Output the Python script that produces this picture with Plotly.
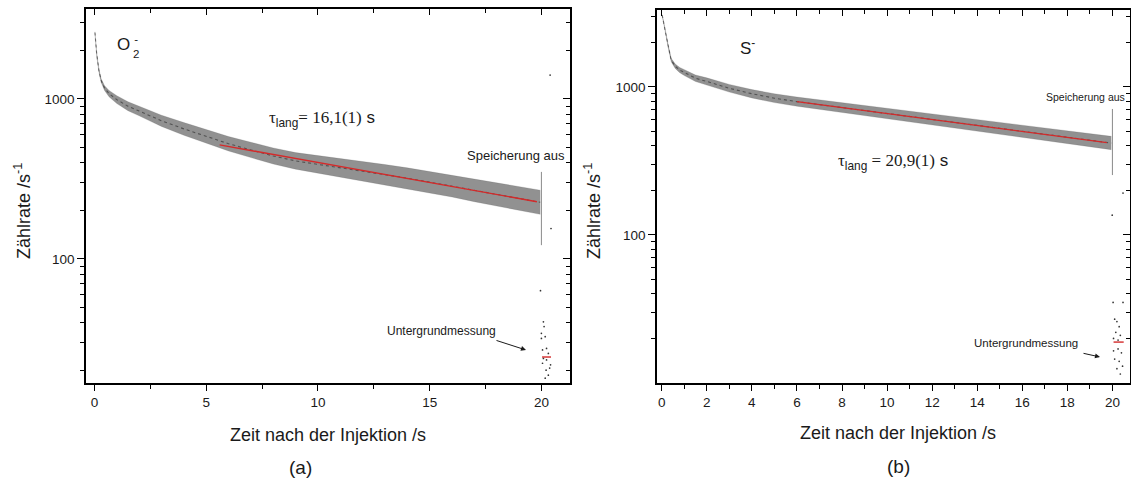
import plotly.graph_objects as go

W, H = 1131, 484

# ---------------- data ----------------
# Panel (a): O2-  -- scatter band of count rate vs time
t_a = [0.02, 0.1, 0.2, 0.3, 0.45, 0.65, 1.0, 1.5, 2.0, 3.0, 4.0, 5.0, 6.0, 7.0, 8.0,
       9.0, 10.0, 11.0, 12.0, 13.0, 14.0, 15.0, 16.0, 17.0, 18.0, 19.0, 19.95]
mid_a = [2600, 1900, 1500, 1300, 1170, 1080, 990, 900, 840, 730, 650, 585, 525, 480, 440,
         410, 390, 372, 355, 337, 320, 302, 285, 268, 254, 240, 226]
up_a = [2630, 1935, 1535, 1336, 1211, 1131, 1048, 960, 900, 791, 712, 645, 582, 536, 494,
        462, 443, 425, 408, 389, 371, 352, 333, 315, 300, 285, 269]
lo_a = [2570, 1865, 1466, 1265, 1130, 1031, 935, 844, 784, 673, 593, 531, 473, 430, 392,
        364, 344, 325, 309, 292, 276, 259, 244, 228, 215, 202, 190]
fit_a_t = [5.6, 19.8]
fit_a_v = [516, 228]
stop_a_t = [20.0, 20.0]
stop_a_v = [350, 122]
bg_a_t = [19.96, 20.09, 20.0, 20.17, 20.05, 20.23, 20.31, 20.09, 20.23, 20.41, 20.21,
          20.31, 20.17, 20.37, 20.05, 20.0, 20.12, 20.43, 20.39]
bg_a_v = [63.4, 40.5, 34.3, 32.7, 27.0, 27.6, 25.7, 23.9, 23.4, 21.8, 20.2,
          18.8, 18.0, 20.8, 22.3, 31.9, 37.8, 155, 1410]
bgfit_a_t = [20.03, 20.43]
bgfit_a_v = [24.4, 24.4]

# Panel (b): S-
t_b = [0.02, 0.1, 0.2, 0.3, 0.42, 0.6, 0.8, 1.0, 1.5, 2.0, 3.0, 4.0, 5.0, 6.0, 7.0, 8.0,
       9.0, 10.0, 11.0, 12.0, 13.0, 14.0, 15.0, 16.0, 17.0, 18.0, 19.0, 19.95]
mid_b = [3060, 2600, 2190, 1850, 1520, 1380, 1300, 1250, 1145, 1090, 980, 900, 840, 796,
         760, 726, 693, 662, 632, 603, 576, 550, 525, 501, 478, 457, 436, 418]
up_b = [3088, 2636, 2231, 1893, 1563, 1428, 1355, 1309, 1205, 1152, 1041, 960, 900, 855,
        818, 783, 749, 717, 687, 657, 628, 602, 575, 550, 527, 505, 483, 464]
lo_b = [3032, 2564, 2150, 1808, 1479, 1333, 1248, 1194, 1088, 1031, 923, 843, 784, 741,
        706, 673, 641, 611, 582, 554, 528, 503, 479, 456, 434, 414, 394, 377]
fit_b_t = [6.0, 19.75]
fit_b_v = [796, 421]
stop_b_t = [20.0, 20.0]
stop_b_v = [710, 254]
bg_b_t = [20.03, 20.47, 19.99, 20.47, 20.1, 20.2, 20.3, 20.15, 20.35, 20.05, 20.25,
          20.4, 20.1, 20.3, 20.45, 20.2, 20.35, 20.05, 20.25]
bg_b_v = [35, 35, 136, 192, 27, 26, 24, 22, 21, 20, 17,
          16, 14.5, 14, 13, 12.5, 11.5, 16.5, 19.5]
bgfit_b_t = [20.05, 20.5]
bgfit_b_v = [18.9, 18.9]

xticks_a = [0, 5, 10, 15, 20]
xminor_a = [2.5, 7.5, 12.5, 17.5]
xticks_b = [0, 2, 4, 6, 8, 10, 12, 14, 16, 18, 20]
xminor_b = [1, 3, 5, 7, 9, 11, 13, 15, 17, 19]
yticks = [100, 1000]
yticktext = ["100", "1000"]
yminor = [20, 30, 40, 50, 60, 70, 80, 90, 200, 300, 400, 500, 600, 700, 800, 900, 2000, 3000]

# ---------------- figure ----------------
FONT = "Liberation Sans, Arial, sans-serif"
INK = "#1a1a1a"

fig = go.Figure()


def band(xa, ya, t, mid, up, lo, fit_t, fit_v, stop_t, stop_v, bg_t, bg_v, bgf_t, bgf_v):
    fig.add_trace(go.Scatter(x=t, y=lo, mode="lines", line=dict(width=0.6, color="rgba(80,80,80,0.3)"),
                             xaxis=xa, yaxis=ya, showlegend=False, hoverinfo="skip"))
    fig.add_trace(go.Scatter(x=t, y=up, mode="lines", line=dict(width=0.6, color="rgba(80,80,80,0.3)"),
                             fill="tonexty", fillcolor="rgba(72,72,72,0.6)",
                             xaxis=xa, yaxis=ya, showlegend=False, hoverinfo="skip"))
    fig.add_trace(go.Scatter(x=t, y=mid, mode="lines",
                             line=dict(width=1.1, color="rgba(20,20,20,0.5)", dash="dot"),
                             xaxis=xa, yaxis=ya, showlegend=False))
    fig.add_trace(go.Scatter(x=fit_t, y=fit_v, mode="lines", line=dict(width=1.4, color="#d42a2a"),
                             xaxis=xa, yaxis=ya, showlegend=False))
    fig.add_trace(go.Scatter(x=stop_t, y=stop_v, mode="lines", line=dict(width=1, color="#8a8a8a"),
                             xaxis=xa, yaxis=ya, showlegend=False))
    fig.add_trace(go.Scatter(x=bg_t, y=bg_v, mode="markers",
                             marker=dict(size=1.7, color="#333", line=dict(width=0)),
                             xaxis=xa, yaxis=ya, showlegend=False))
    fig.add_trace(go.Scatter(x=bgf_t, y=bgf_v, mode="lines", line=dict(width=1.4, color="#d42a2a"),
                             xaxis=xa, yaxis=ya, showlegend=False))


band("x", "y", t_a, mid_a, up_a, lo_a, fit_a_t, fit_a_v, stop_a_t, stop_a_v,
     bg_a_t, bg_a_v, bgfit_a_t, bgfit_a_v)
band("x2", "y2", t_b, mid_b, up_b, lo_b, fit_b_t, fit_b_v, stop_b_t, stop_b_v,
     bg_b_t, bg_b_v, bgfit_b_t, bgfit_b_v)

# invisible traces so the mirrored overlay axes get drawn
fig.add_trace(go.Scatter(x=[10], y=[100], xaxis="x3", yaxis="y3", mode="markers",
                         marker=dict(opacity=0), showlegend=False, hoverinfo="skip"))
fig.add_trace(go.Scatter(x=[10], y=[100], xaxis="x4", yaxis="y4", mode="markers",
                         marker=dict(opacity=0), showlegend=False, hoverinfo="skip"))


def px(x):
    return x / W


def py(y):
    return 1 - y / H


dom_xa = [px(86), px(570)]
dom_xb = [px(657), px(1130)]
dom_ya = [py(383), py(9)]
dom_yb = [py(383), py(10)]
rx_a = [-0.38, 21.28]
rx_b = [-0.21, 20.78]
ry_a = [1.225, 3.562]
ry_b = [1.0, 3.52]

common = dict(showgrid=False, zeroline=False, showline=True, linecolor="black", linewidth=1.5,
              tickcolor="black", tickwidth=1, tickfont=dict(family=FONT, size=13.5, color=INK))


def xax(dom, rng, tv, minor, anchor, inside=False, overlay=None):
    d = dict(common, domain=dom, range=rng, tickmode="array", tickvals=tv, anchor=anchor,
             ticks="inside" if inside else "outside", ticklen=6,
             minor=dict(tickmode="array", tickvals=minor, ticks="inside" if inside else "outside",
                        ticklen=4, tickcolor="black", tickwidth=1))
    if overlay:
        d.update(overlaying=overlay, side="top", showticklabels=False)
    return d


def yax(dom, rng, anchor, inside=False, overlay=None):
    d = dict(common, domain=dom, type="log", range=rng, tickmode="array", tickvals=yticks,
             ticktext=yticktext, anchor=anchor, ticks="inside" if inside else "outside", ticklen=7,
             minor=dict(tickmode="array", tickvals=yminor, ticks="inside" if inside else "outside",
                        ticklen=4, tickcolor="black", tickwidth=1))
    if overlay:
        d.update(overlaying=overlay, side="right", showticklabels=False)
    return d


fig.update_layout(
    width=W, height=H, margin=dict(l=0, r=0, t=0, b=0),
    paper_bgcolor="white", plot_bgcolor="white",
    font=dict(family=FONT, color=INK),
    xaxis=xax(dom_xa, rx_a, xticks_a, xminor_a, "y"),
    yaxis=yax(dom_ya, ry_a, "x"),
    xaxis2=xax(dom_xb, rx_b, xticks_b, xminor_b, "y2"),
    yaxis2=yax(dom_yb, ry_b, "x2"),
    xaxis3=xax(dom_xa, rx_a, xticks_a, xminor_a, "y", inside=True, overlay="x"),
    yaxis3=yax(dom_ya, ry_a, "x", inside=True, overlay="y"),
    xaxis4=xax(dom_xb, rx_b, xticks_b, xminor_b, "y2", inside=True, overlay="x2"),
    yaxis4=yax(dom_yb, ry_b, "x2", inside=True, overlay="y2"),
)


def note(text, x, y, size, xanchor="center", yanchor="middle", angle=0, **kw):
    fig.add_annotation(text=text, x=px(x), y=py(y), xref="paper", yref="paper",
                       xanchor=xanchor, yanchor=yanchor, showarrow=False, textangle=angle,
                       font=dict(family=FONT, size=size, color=INK), borderpad=0, **kw)


# axis titles
note("Zeit nach der Injektion /s", 328, 435, 18)
note("Zeit nach der Injektion /s", 898, 433, 18)
note("Zählrate /s<sup>-1</sup>", 23, 211, 18, angle=-90)
note("Zählrate /s<sup>-1</sup>", 593, 211, 18, angle=-90)
note("(a)", 300, 467, 19)
note("(b)", 898, 466, 19)

# ion labels (superscript charge stacked over the subscript)
note("O", 131, 45, 17, xanchor="right")
note("-<br>2", 132, 47, 11.5, xanchor="left")
note("S<sup>-</sup>", 739, 47, 17, xanchor="left")

# lifetimes
tau_a = ('<span style="font-family:Liberation Serif">τ</span><sub>lang</sub>'
         '<span style="font-family:Liberation Serif">= 16,1(1)</span> s')
tau_b = ('<span style="font-family:Liberation Serif">τ</span><sub>lang</sub>'
         '<span style="font-family:Liberation Serif"> = 20,9(1)</span> s')
note(tau_a, 268, 119, 17, xanchor="left")
note(tau_b, 837, 162, 17, xanchor="left")

# storage off
note("Speicherung aus", 566, 155, 13, xanchor="right")
note("Speicherung aus", 1126, 97, 10.5, xanchor="right")

# background measurement
note("Untergrundmessung", 441, 331, 12)
note("Untergrundmessung", 1026, 343, 11.5)
fig.add_annotation(x=px(526), y=py(350), xref="paper", yref="paper", ax=-31, ay=-10,
                   showarrow=True, arrowhead=2, arrowsize=1, arrowwidth=1, arrowcolor=INK, text="")
fig.add_annotation(x=px(1100), y=py(357), xref="paper", yref="paper", ax=-18, ay=-4,
                   showarrow=True, arrowhead=2, arrowsize=1, arrowwidth=1, arrowcolor=INK, text="")

fig.write_html("out.html")
